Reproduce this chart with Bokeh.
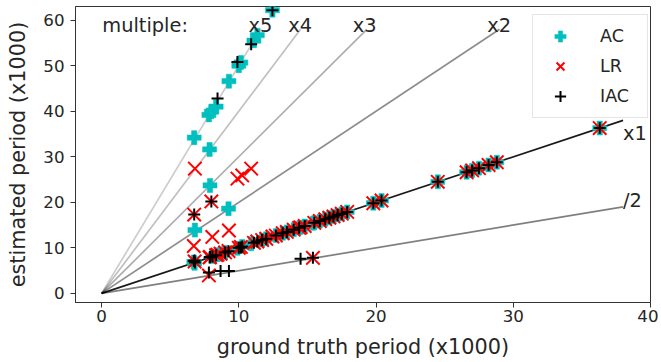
from bokeh.plotting import figure
from bokeh.models import ColumnDataSource, FixedTicker, Legend, LegendItem
from bokeh.core.properties import value
from bokeh.embed import file_html
from bokeh.resources import INLINE

# ground truth period (x1000) and estimates by each method
gt  = [6.75, 6.8, 6.72, 6.78, 7.82, 7.87, 7.9, 8.0, 8.07, 8.35, 8.45, 8.67, 9.0, 9.28, 9.25,
       9.9, 10.0, 10.15, 10.25, 10.9, 11.1, 11.35, 12.45, 11.7, 12.0, 12.7, 13.2, 13.5, 14.0,
       14.5, 14.4, 14.8, 15.4, 15.5, 15.9, 16.3, 16.6, 16.9, 17.2, 17.5, 17.9, 19.8, 20.4,
       24.5, 26.6, 27.0, 27.5, 28.2, 28.8, 36.3]
ac  = [34.2, 13.9, 6.9, 6.6, 39.2, 31.6, 23.7, 39.9, 8.1, 41.0, 8.5, 8.7, 9.0, 46.6, 18.6,
       9.9, 50.0, 50.7, 10.3, 10.9, 55.5, 56.7, 62.2, 11.7, 12.0, 12.7, 13.2, 13.5, 14.0,
       14.5, 14.4, 14.8, 15.4, 15.5, 15.9, 16.3, 16.6, 16.9, 17.2, 17.5, 17.9, 19.8, 20.4,
       24.5, 26.6, 27.0, 27.5, 28.2, 28.8, 36.3]
lr  = [17.3, 27.4, 10.4, 7.0, 3.95, 7.9, 8.0, 20.2, 12.4, 8.4, 8.5, 8.7, 9.0, 13.8, 9.3,
       25.2, 10.0, 10.2, 25.9, 27.4, 11.1, 11.4, 12.5, 11.7, 12.0, 12.7, 13.2, 13.5, 14.0,
       14.5, 14.4, 14.8, 7.8, 15.5, 15.9, 16.3, 16.6, 16.9, 17.2, 17.5, 17.9, 19.8, 20.4,
       24.5, 26.6, 27.0, 27.5, 28.2, 28.8, 36.3]
iac = [17.3, 6.8, 7.1, 7.2, 4.6, 7.9, 8.0, 20.2, 8.1, 8.4, 42.8, 4.9, 9.0, 4.9, 9.25,
       50.8, 10.0, 10.1, 10.3, 54.7, 11.1, 11.4, 62.2, 11.7, 12.0, 12.7, 13.2, 13.5, 14.0,
       7.6, 14.4, 14.8, 7.8, 15.5, 15.9, 16.3, 16.6, 16.9, 17.2, 17.5, 17.9, 19.8, 20.4,
       24.5, 26.6, 27.0, 27.5, 28.2, 28.8, 36.3]

# reference lines y = k * x
multiples  = [0.5, 1, 2, 3, 4, 5]
line_end_x = [38.0, 38.0, 29.0, 19.33, 14.5, 11.6]
line_alpha = [0.5, 0.9, 0.45, 0.32, 0.25, 0.2]

label_text = ["/2", "x1", "x2", "x3", "x4", "x5", "multiple:"]
label_x    = [38.0, 38.0, 28.1, 18.3, 13.6, 10.7, 0.05]
label_y    = [20.4, 35.1, 58.8, 58.8, 58.8, 58.8, 58.8]

x_ticks = [0, 10, 20, 30, 40]
y_ticks = [0, 10, 20, 30, 40, 50, 60]

FONT = "DejaVu Sans"
TICK_FS = "16.7px"
AXIS_FS = "20.8px"
NOTE_FS = "19.4px"
LEG_FS = "17.5px"
TXT = "#262626"

p = figure(width=658, height=362, x_range=(-1.9, 40.0), y_range=(-2.0, 63.0),
           min_border_left=75, min_border_right=8, min_border_top=6, min_border_bottom=60,
           output_backend="svg", toolbar_location=None)
p.background_fill_color = "white"
p.border_fill_color = "white"
p.grid.visible = False
p.outline_line_color = "#333333"
p.outline_line_width = 1

for k, xe, a in zip(multiples, line_end_x, line_alpha):
    p.line([0, xe], [0, k * xe], line_color="black", line_alpha=a, line_width=1.7)

src = ColumnDataSource(dict(gt=gt, ac=ac, lr=lr, iac=iac))
r_ac = p.scatter("gt", "ac", source=src, marker="plus", size=14,
                 fill_color="#00BFBF", line_color="#00BFBF", line_width=0.5)
r_lr = p.scatter("gt", "lr", source=src, marker="x", size=19,
                 line_color="#FF0000", line_width=2)
r_iac = p.scatter("gt", "iac", source=src, marker="cross", size=12,
                  line_color="black", line_width=2)

lsrc = ColumnDataSource(dict(x=label_x, y=label_y, t=label_text))
p.text("x", "y", text="t", source=lsrc, text_font=value(FONT), text_font_size=value(NOTE_FS),
       text_color=TXT, text_baseline="alphabetic", text_align="left")

for ax in (p.xaxis[0], p.yaxis[0]):
    ax.major_label_text_font = FONT
    ax.major_label_text_font_size = TICK_FS
    ax.major_label_text_color = TXT
    ax.axis_label_text_font = FONT
    ax.axis_label_text_font_size = AXIS_FS
    ax.axis_label_text_font_style = "normal"
    ax.axis_label_text_color = TXT
    ax.major_tick_out = 5
    ax.major_tick_in = 0
    ax.minor_tick_out = 0
    ax.minor_tick_in = 0
    ax.major_tick_line_color = "#333333"
    ax.axis_line_color = "#333333"

p.xaxis[0].ticker = FixedTicker(ticks=x_ticks)
p.yaxis[0].ticker = FixedTicker(ticks=y_ticks)
p.xaxis[0].axis_label = "ground truth period (x1000)"
p.yaxis[0].axis_label = "estimated period (x1000)"
p.xaxis[0].major_label_standoff = 2
p.xaxis[0].axis_label_standoff = 10
p.yaxis[0].major_label_standoff = 6
p.yaxis[0].axis_label_standoff = 10

legend = Legend(items=[LegendItem(label="AC", renderers=[r_ac]),
                       LegendItem(label="LR", renderers=[r_lr]),
                       LegendItem(label="IAC", renderers=[r_iac])],
                location=(457, 184))
legend.label_text_font = FONT
legend.label_text_font_size = LEG_FS
legend.label_text_color = TXT
legend.glyph_height = 28
legend.glyph_width = 40
legend.label_height = 28
legend.label_width = 40
legend.label_standoff = 20
legend.spacing = 2
legend.padding = 7
legend.border_line_color = "#cccccc"
legend.border_line_width = 1
legend.background_fill_color = "white"
legend.background_fill_alpha = 0.8
p.add_layout(legend, "center")

open("out.html", "w").write(file_html(p, INLINE))
